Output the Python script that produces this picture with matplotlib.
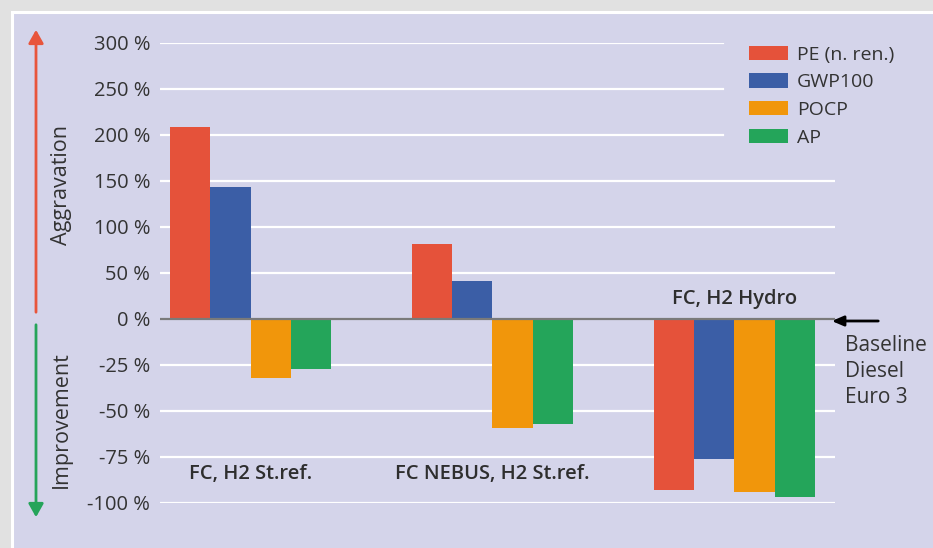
import numpy as np
import matplotlib.pyplot as plt
from matplotlib.patches import Rectangle

groups = ['FC, H2 St.ref.', 'FC NEBUS, H2 St.ref.', 'FC, H2 Hydro']
series = ['PE (n. ren.)', 'GWP100', 'POCP', 'AP']
pe = [209, 81, -93]
gwp = [144, 41, -76]
pocp = [-32, -59, -94]
ap = [-27, -57, -97]
ticks = [-100, -75, -50, -25, 0, 50, 100, 150, 200, 250, 300]
colors = ['#e5523a', '#3b5ea6', '#f1960b', '#24a55a']

plt.rcParams['font.family'] = ['Open Sans', 'DejaVu Sans']

W, H = 933, 548
fig = plt.figure(figsize=(W / 100, H / 100), dpi=100, facecolor='#e1e1e1')
fig.patches.append(Rectangle((12 / W, -0.05), 1, (H - 12) / H + 0.05, transform=fig.transFigure,
                             facecolor='#d4d4ea', edgecolor='white', lw=2.2, zorder=-5))

ax = fig.add_axes([160 / W, (H - 503) / H, (835 - 160) / W, 460 / H])
ax.set_facecolor('none')

# positive half: 50 % per step, negative half: 25 % per step
def fwd(y):
    y = np.asarray(y, dtype=float)
    return np.where(y >= 0, y / 50.0, y / 25.0)

def inv(y):
    y = np.asarray(y, dtype=float)
    return np.where(y >= 0, y * 50.0, y * 25.0)

ax.set_yscale('function', functions=(fwd, inv))
ax.set_ylim(-100, 300)
ax.set_xlim(-0.75, 16.0)

vals = [pe, gwp, pocp, ap]
for j, (v, c, lab) in enumerate(zip(vals, colors, series)):
    x = np.arange(len(groups)) * 6 + j
    ax.bar(x, v, width=1.0, color=c, label=lab, zorder=3)

for t in ticks:
    if t == 0:
        ax.axhline(0, color='#7a7a7a', lw=1.6, zorder=4)
    elif t >= 200:
        # upper lines stop short of the legend
        ax.axhline(t, xmax=0.834, color='white', lw=1.6, zorder=1)
    else:
        ax.axhline(t, color='white', lw=1.6, zorder=1)

ax.set_yticks(ticks)
ax.set_yticklabels([f'{t} %' for t in ticks], fontsize=14.5, color='#333333')
ax.tick_params(axis='y', length=0, pad=7)
ax.set_xticks([])
for s in ax.spines.values():
    s.set_visible(False)

txt = dict(fontsize=14.5, fontweight='semibold', color='#2e2e2e')
ax.text(1.5, -84, groups[0], ha='center', va='center', **txt)
ax.text(7.5, -84, groups[1], ha='center', va='center', **txt)
ax.text(13.5, 11, groups[2], ha='center', va='bottom', **txt)

leg = ax.legend(loc='upper left', bbox_to_anchor=(0.849, 1.028), frameon=False,
                fontsize=14, handlelength=2.0, handleheight=0.75,
                labelspacing=0.5, handletextpad=0.5, borderpad=0.3)
for t in leg.get_texts():
    t.set_color('#333333')

# side arrows
ax.annotate('', xy=(36 / W, (H - 27) / H), xytext=(36 / W, (H - 315) / H),
            xycoords='figure fraction', textcoords='figure fraction',
            arrowprops=dict(arrowstyle='-|>,head_width=0.45,head_length=0.8',
                            color='#e8553c', lw=2))
ax.annotate('', xy=(36 / W, (H - 520) / H), xytext=(36 / W, (H - 322) / H),
            xycoords='figure fraction', textcoords='figure fraction',
            arrowprops=dict(arrowstyle='-|>,head_width=0.45,head_length=0.8',
                            color='#25a45a', lw=2))
fig.text(61 / W, (H - 185) / H, 'Aggravation', rotation=90, ha='center', va='center',
         fontsize=15.5, color='#333333')
fig.text(61 / W, (H - 420) / H, 'Improvement', rotation=90, ha='center', va='center',
         fontsize=15.5, color='#333333')

# baseline arrow
ax.annotate('', xy=(829 / W, (H - 321) / H), xytext=(881 / W, (H - 321) / H),
            xycoords='figure fraction', textcoords='figure fraction',
            arrowprops=dict(arrowstyle='-|>,head_width=0.3,head_length=0.7',
                            color='black', lw=2))
fig.text(845 / W, (H - 335) / H, 'Baseline\nDiesel\nEuro 3', ha='left', va='top',
         fontsize=15, color='#333333', linespacing=1.3)

fig.savefig('out.png', dpi=100, facecolor=fig.get_facecolor())
